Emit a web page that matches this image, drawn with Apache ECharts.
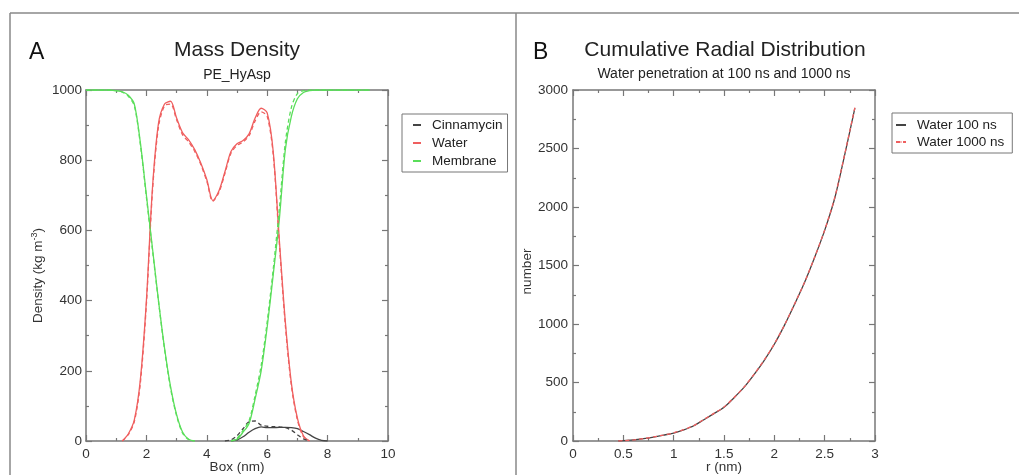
<!DOCTYPE html>
<html>
<head>
<meta charset="utf-8">
<script src="https://cdn.jsdelivr.net/npm/echarts@6/dist/echarts.min.js"></script>
<style>html,body{margin:0;padding:0;background:#fff;}#c{width:1019px;height:475px;}</style>
</head>
<body>
<div id="c"></div>
<script>
// ---- Panel A: mass density profile ----
const boxNm = [0.0,0.2,0.4,0.6,0.8,1.0,1.2,1.4,1.6,1.8,2.0,2.2,2.4,2.6,2.8,3.0,3.2,3.4,3.6,3.8,4.0,4.2,4.4,4.6,4.8,5.0,5.2,5.4,5.6,5.8,6.0,6.2,6.4,6.6,6.8,7.0,7.2,7.4,7.6,7.8,8.0,8.2,8.4,8.6,8.8,9.0,9.2,9.4];
const cinnamycinA = [null,null,null,null,null,null,null,null,null,null,null,null,null,null,null,null,null,null,null,null,null,null,null,null,0,3,12,25,35,40,38,38,39,39,38,35,27,18,8,2,0,null,null,null,null,null,null,null];
const cinnamycinB = [null,null,null,null,null,null,null,null,null,null,null,null,null,null,null,null,null,null,null,null,null,null,null,0,3,15,35,55,57,45,42,41,40,38,31,18,6,0,null,null,null,null,null,null,null,null,null,null];
const waterA = [null,null,null,null,null,null,0,20,60,175,400,720,905,960,968,920,878,858,830,792,745,685,712,767,825,847,856,875,920,948,935,824,575,340,165,65,15,0,null,null,null,null,null,null,null,null,null,null];
const waterB = [null,null,null,null,null,null,0,18,55,165,390,710,895,955,960,915,872,852,825,788,740,683,708,762,820,842,852,870,912,938,925,815,565,330,158,60,12,0,null,null,null,null,null,null,null,null,null,null];
const membraneA = [1000,1000,1000,1000,1000,998,995,985,960,850,700,550,400,265,155,75,25,5,0,null,null,null,null,null,0,5,25,50,120,200,325,474,630,830,925,975,993,998,1000,1000,1000,1000,1000,1000,1000,1000,1000,1000];
const membraneB = [1000,1000,1000,1000,1000,998,994,982,955,845,695,545,398,262,150,72,22,4,0,null,null,null,null,null,0,8,30,58,130,215,340,490,660,850,950,990,998,1000,1000,1000,1000,1000,1000,1000,1000,1000,1000,1000];
const seriesNamesA = ['Cinnamycin','Water','Membrane'];

// ---- Panel B: cumulative radial distribution ----
const rNm = [0.45,0.5,0.6,0.7,0.8,0.9,1.0,1.1,1.2,1.3,1.4,1.5,1.6,1.7,1.8,1.9,2.0,2.1,2.2,2.3,2.4,2.5,2.6,2.7,2.8];
const water100 = [0,3,9,20,34,50,68,95,130,182,234,288,370,460,570,690,827,988,1167,1354,1568,1800,2075,2450,2845];
const water1000 = [0,3,9,20,35,51,70,97,132,184,236,290,372,462,572,693,830,990,1170,1357,1570,1803,2080,2455,2850];
const seriesNamesB = ['Water 100 ns','Water 1000 ns'];

const pairs = (xs, ys) => xs.map((x, i) => [x, ys[i]]);

const FONT = 'Liberation Sans, Arial, Helvetica, sans-serif';
const AX = '#777';
const RED = '#ef5f5f', GREEN = '#5ade5a', BLACK = '#444';
const plain = v => String(v);

function axisCommon(extra) {
  return Object.assign({
    type: 'value',
    axisLine: { show: true, onZero: false, lineStyle: { color: AX, width: 1.5 } },
    axisTick: { show: true, inside: true, length: 6, lineStyle: { color: AX, width: 1.2 } },
    minorTick: { show: true, splitNumber: 2, length: 3, lineStyle: { color: AX, width: 1.2 } },
    splitLine: { show: false },
    axisLabel: { fontFamily: FONT, fontSize: 13.5, color: '#333', formatter: plain }
  }, extra);
}
const noLabel = { show: false };

const option = {
  animation: false,
  backgroundColor: '#fff',
  textStyle: { fontFamily: FONT },
  grid: [
    { left: 86, top: 90, width: 302, height: 351, containLabel: false, outerBoundsMode: 'none' },
    { left: 573, top: 90, width: 302, height: 351, containLabel: false, outerBoundsMode: 'none' }
  ],
  xAxis: [
    axisCommon({ gridIndex: 0, min: 0, max: 10, interval: 2, position: 'bottom',
      axisLabel: { fontFamily: FONT, fontSize: 13.5, color: '#333', margin: 6, formatter: plain },
      name: 'Box (nm)', nameLocation: 'middle', nameGap: 19, nameMoveOverlap: false,
      nameTextStyle: { fontFamily: FONT, fontSize: 13.5, color: '#333' } }),
    axisCommon({ gridIndex: 0, min: 0, max: 10, interval: 2, position: 'top', axisLabel: noLabel }),
    axisCommon({ gridIndex: 1, min: 0, max: 3, interval: 0.5, position: 'bottom',
      axisLabel: { fontFamily: FONT, fontSize: 13.5, color: '#333', margin: 6, formatter: plain },
      name: 'r (nm)', nameLocation: 'middle', nameGap: 19, nameMoveOverlap: false,
      nameTextStyle: { fontFamily: FONT, fontSize: 13.5, color: '#333' } }),
    axisCommon({ gridIndex: 1, min: 0, max: 3, interval: 0.5, position: 'top', axisLabel: noLabel })
  ],
  yAxis: [
    axisCommon({ gridIndex: 0, min: 0, max: 1000, interval: 200, position: 'left',
      axisLabel: { fontFamily: FONT, fontSize: 13.5, color: '#333', margin: 4, formatter: plain },
      name: 'Density (kg m{sup|-3}{n|)}', nameLocation: 'middle', nameGap: 40,
      nameTextStyle: { fontFamily: FONT, fontSize: 13.5, color: '#333', padding: [0, 20, 0, 0],
        rich: { sup: { fontFamily: FONT, fontSize: 9, color: '#333', verticalAlign: 'top', lineHeight: 16 },
                n: { fontFamily: FONT, fontSize: 13.5, color: '#333' } } } }),
    axisCommon({ gridIndex: 0, min: 0, max: 1000, interval: 200, position: 'right', axisLabel: noLabel }),
    axisCommon({ gridIndex: 1, min: 0, max: 3000, interval: 500, position: 'left',
      axisLabel: { fontFamily: FONT, fontSize: 13.5, color: '#333', margin: 5, formatter: plain },
      name: 'number', nameLocation: 'middle', nameGap: 36,
      nameTextStyle: { fontFamily: FONT, fontSize: 13.5, color: '#333', padding: [0, 12, 0, 0] } }),
    axisCommon({ gridIndex: 1, min: 0, max: 3000, interval: 500, position: 'right', axisLabel: noLabel })
  ],
  legend: [
    { data: seriesNamesA, left: 402, top: 114, orient: 'vertical',
      itemWidth: 8, itemHeight: 2, itemGap: 4, padding: [4, 5, 4, 10],
      borderColor: AX, borderWidth: 1, selectedMode: false,
      textStyle: { fontFamily: FONT, fontSize: 13.5, color: '#222', lineHeight: 14, padding: [0, 0, 0, 6] } },
    { data: seriesNamesB, left: 892, top: 113, orient: 'vertical',
      itemWidth: 10, itemHeight: 2, itemGap: 3, padding: [5, 8, 4, 3],
      borderColor: AX, borderWidth: 1, selectedMode: false,
      textStyle: { fontFamily: FONT, fontSize: 13.5, color: '#222', lineHeight: 14, padding: [0, 0, 0, 6] } }
  ],
  series: [
    { name: seriesNamesA[0], type: 'line', xAxisIndex: 0, yAxisIndex: 0, symbol: 'none', smooth: 0.3,
      data: pairs(boxNm, cinnamycinA), lineStyle: { color: BLACK, width: 1.3 }, itemStyle: { color: BLACK } },
    { name: seriesNamesA[1], type: 'line', xAxisIndex: 0, yAxisIndex: 0, symbol: 'none', smooth: 0.3,
      data: pairs(boxNm, waterA), lineStyle: { color: RED, width: 1.3 }, itemStyle: { color: RED } },
    { name: seriesNamesA[2], type: 'line', xAxisIndex: 0, yAxisIndex: 0, symbol: 'none', smooth: 0.3,
      data: pairs(boxNm, membraneA), lineStyle: { color: GREEN, width: 1.3 }, itemStyle: { color: GREEN } },
    { name: 'Cinnamycin (2)', type: 'line', xAxisIndex: 0, yAxisIndex: 0, symbol: 'none', smooth: 0.3,
      data: pairs(boxNm, cinnamycinB), lineStyle: { color: BLACK, width: 1.3, type: [4, 3] }, itemStyle: { color: BLACK } },
    { name: 'Water (2)', type: 'line', xAxisIndex: 0, yAxisIndex: 0, symbol: 'none', smooth: 0.3,
      data: pairs(boxNm, waterB), lineStyle: { color: RED, width: 1.3, type: [4, 3] }, itemStyle: { color: RED } },
    { name: 'Membrane (2)', type: 'line', xAxisIndex: 0, yAxisIndex: 0, symbol: 'none', smooth: 0.3,
      data: pairs(boxNm, membraneB), lineStyle: { color: GREEN, width: 1.3, type: [4, 3] }, itemStyle: { color: GREEN } },
    { name: seriesNamesB[0], type: 'line', xAxisIndex: 2, yAxisIndex: 2, symbol: 'none', smooth: 0.3,
      data: pairs(rNm, water100), lineStyle: { color: BLACK, width: 1.3 }, itemStyle: { color: BLACK } },
    { name: seriesNamesB[1], type: 'line', xAxisIndex: 2, yAxisIndex: 2, symbol: 'none', smooth: 0.3,
      data: pairs(rNm, water1000), lineStyle: { color: RED, width: 1.3, type: [4, 3] }, itemStyle: { color: RED } }
  ],
  graphic: [
    { type: 'line', shape: { x1: 10, y1: 13, x2: 1019, y2: 13 }, style: { stroke: '#888', lineWidth: 1.5 } },
    { type: 'line', shape: { x1: 10, y1: 13, x2: 10, y2: 475 }, style: { stroke: '#888', lineWidth: 1.5 } },
    { type: 'line', shape: { x1: 516, y1: 13, x2: 516, y2: 475 }, style: { stroke: '#888', lineWidth: 1.5 } },
    { type: 'text', left: 29, top: 41, style: { text: 'A', font: '23px ' + FONT, fill: '#111' } },
    { type: 'text', left: 533, top: 41, style: { text: 'B', font: '23px ' + FONT, fill: '#111' } },
    { type: 'text', x: 237, y: 50, style: { text: 'Mass Density', font: '21px ' + FONT, fill: '#222', textAlign: 'center', textVerticalAlign: 'middle' } },
    { type: 'text', x: 237, y: 75, style: { text: 'PE_HyAsp', font: '14px ' + FONT, fill: '#222', textAlign: 'center', textVerticalAlign: 'middle' } },
    { type: 'text', x: 725, y: 50, style: { text: 'Cumulative Radial Distribution', font: '21px ' + FONT, fill: '#222', textAlign: 'center', textVerticalAlign: 'middle' } },
    { type: 'text', x: 724, y: 74, style: { text: 'Water penetration at 100 ns and 1000 ns', font: '14px ' + FONT, fill: '#222', textAlign: 'center', textVerticalAlign: 'middle' } }
  ]
};

const chart = echarts.init(document.getElementById('c'), null, { renderer: 'canvas' });
chart.setOption(option);
</script>
</body>
</html>
